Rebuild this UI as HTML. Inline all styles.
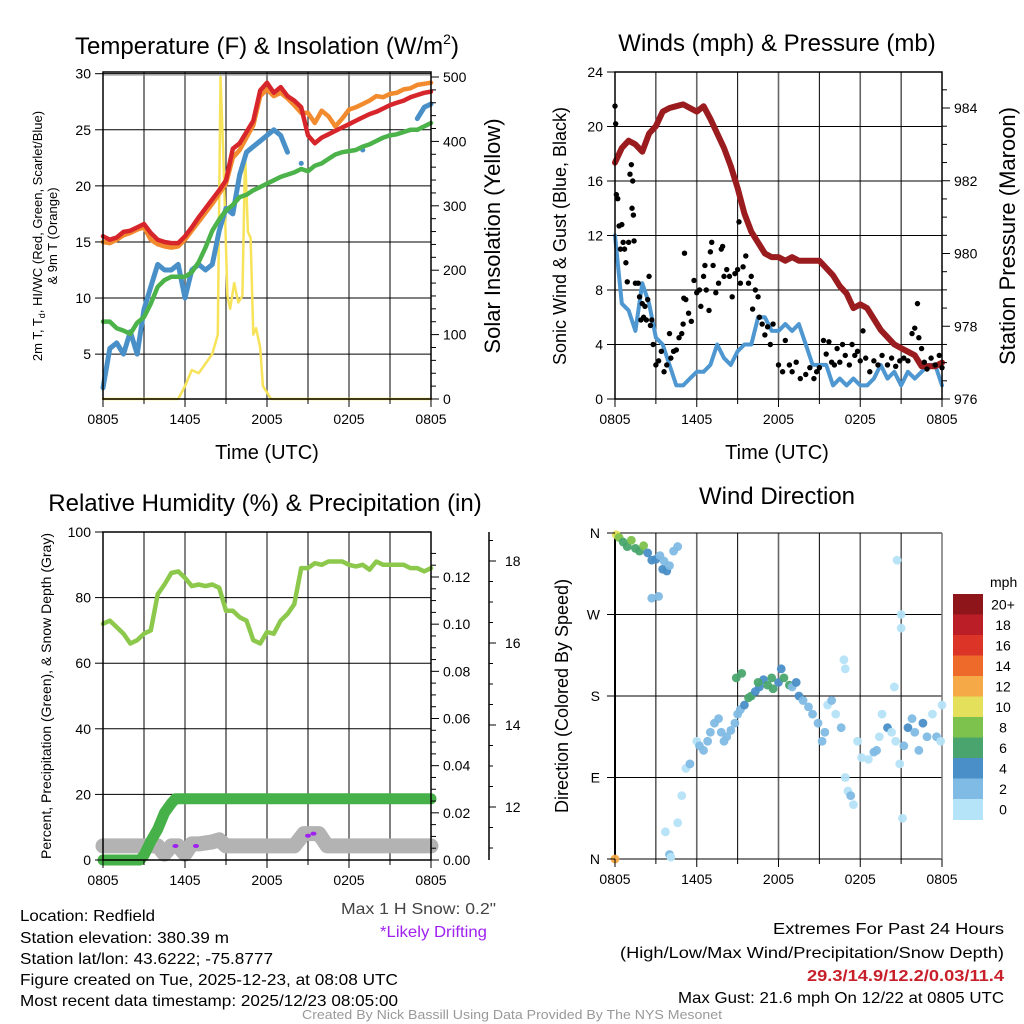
<!DOCTYPE html>
<html><head><meta charset="utf-8"><style>
html,body{margin:0;padding:0;background:#fff;}
svg{display:block;font-family:"Liberation Sans",sans-serif;}
.n{font-family:"Liberation Sans Narrow","Liberation Sans",sans-serif;}
</style></head><body>
<svg id="c" width="1024" height="1024" viewBox="0 0 1024 1024" xmlns="http://www.w3.org/2000/svg">
<rect width="1024" height="1024" fill="#fff"/>
<text x="267" y="54" font-size="24" text-anchor="middle">Temperature (F) &amp; Insolation (W/m<tspan dy="-10" font-size="14">2</tspan><tspan dy="10">)</tspan></text>
<text x="777" y="51" font-size="24" text-anchor="middle">Winds (mph) &amp; Pressure (mb)</text>
<text x="265" y="511" font-size="24" text-anchor="middle">Relative Humidity (%) &amp; Precipitation (in)</text>
<text x="777" y="504" font-size="24" text-anchor="middle">Wind Direction</text>
<text x="267" y="459" font-size="20" text-anchor="middle">Time (UTC)</text>
<text x="777" y="459" font-size="20" text-anchor="middle">Time (UTC)</text>
<text transform="translate(42,236) rotate(-90)" font-size="13" text-anchor="middle">2m T, T<tspan font-size="9" dy="3">d</tspan><tspan dy="-3">, HI/WC (Red, Green, Scarlet/Blue)</tspan></text>
<text transform="translate(57,236) rotate(-90)" font-size="13" text-anchor="middle">&amp; 9m T (Orange)</text>
<text transform="translate(500,236) rotate(-90)" font-size="22" text-anchor="middle">Solar Insolation (Yellow)</text>
<text transform="translate(566,236) rotate(-90)" font-size="18" text-anchor="middle">Sonic Wind &amp; Gust (Blue, Black)</text>
<text transform="translate(1015,236) rotate(-90)" font-size="22" text-anchor="middle">Station Pressure (Maroon)</text>
<text transform="translate(51,696) rotate(-90)" font-size="14" text-anchor="middle">Percent, Precipitation (Green), &amp; Snow Depth (Gray)</text>
<text transform="translate(568,696) rotate(-90)" font-size="18" text-anchor="middle">Direction (Colored By Speed)</text>
<g class="n" font-size="16">
<text x="20" y="921" textLength="135" lengthAdjust="spacingAndGlyphs">Location: Redfield</text>
<text x="20" y="943" textLength="209" lengthAdjust="spacingAndGlyphs">Station elevation: 380.39 m</text>
<text x="20" y="964" textLength="253" lengthAdjust="spacingAndGlyphs">Station lat/lon: 43.6222; -75.8777</text>
<text x="20" y="985" textLength="378" lengthAdjust="spacingAndGlyphs">Figure created on Tue, 2025-12-23, at 08:08 UTC</text>
<text x="20" y="1006" textLength="378" lengthAdjust="spacingAndGlyphs">Most recent data timestamp: 2025/12/23 08:05:00</text>
<text x="341" y="914" fill="#444" textLength="155" lengthAdjust="spacingAndGlyphs">Max 1 H Snow: 0.2"</text>
<text x="380" y="937" fill="#a020f0" textLength="107" lengthAdjust="spacingAndGlyphs">*Likely Drifting</text>
<text x="773" y="934" textLength="231" lengthAdjust="spacingAndGlyphs">Extremes For Past 24 Hours</text>
<text x="620" y="958" textLength="384" lengthAdjust="spacingAndGlyphs">(High/Low/Max Wind/Precipitation/Snow Depth)</text>
<text x="807" y="981" fill="#c8202a" font-weight="bold" textLength="197" lengthAdjust="spacingAndGlyphs">29.3/14.9/12.2/0.03/11.4</text>
<text x="678" y="1003" textLength="326" lengthAdjust="spacingAndGlyphs">Max Gust: 21.6 mph On 12/22 at 0805 UTC</text>
<text x="302" y="1019" fill="#999" font-size="13" textLength="420" lengthAdjust="spacingAndGlyphs">Created By Nick Bassill Using Data Provided By The NYS Mesonet</text>
</g>
</svg>
<script>
// ---------- data ----------
var xTickLabels = ["0805","1405","2005","0205","0805"];
var tempHours = [0,0.5,1,1.5,2,2.5,3,3.5,4,4.5,5,5.5,6,6.5,7,7.5,8,8.5,9,9.5,10,10.5,11,11.5,12,12.5,13,13.5,14,14.5,15,15.5,16,16.5,17,17.5,18,18.5,19,19.5,20,20.5,21,21.5,22,22.5,23,23.5,24];
var temp2m = [15.5,15.2,15.4,15.9,16,16.3,16.6,15.8,15.2,15,14.9,14.9,15.5,16.3,17.2,18,18.8,19.6,20.5,23.3,23.8,24.8,25.8,28.5,29.2,28.3,28.8,28,27.6,27,24.5,23.8,24.3,24.6,24.9,25.2,25.5,25.8,26.1,26.4,26.6,26.9,27.2,27.4,27.6,27.9,28.1,28.3,28.4];
var temp9m = [15,14.9,15.2,15.6,15.8,16.1,16.3,15.2,14.8,14.6,14.5,14.6,15.2,16,16.8,17.6,18.4,19.3,20.2,22.5,23.2,24.3,25.4,28,28.6,28,28.3,27.8,27.2,26.5,26.5,25.6,26.7,26.2,25.3,26,26.8,27,27.3,27.6,28,27.9,28.2,28.3,28.6,28.7,29,29.1,29.2];
var dewpoint = [7.9,7.9,7.3,7.1,6.8,7.8,8.3,9.5,11,11.6,11.9,11.9,11.9,12.3,13.2,14.5,16,17,17.8,18.3,19,19.2,19.6,19.9,20.2,20.5,20.8,21,21.2,21.5,21.3,21.8,22,22.4,22.8,23,23.1,23.2,23.5,23.7,24,24.3,24.5,24.6,24.8,25,25,25.3,25.6];
var windChill = [2,5.5,6,5,7,5,9,11,13,12.5,12.5,13,10,12.5,13,12.5,13,16,18,17.5,21,23,23.5,24,24.5,25,24.5,23,null,22,null,null,null,null,null,null,null,null,23.2,null,null,null,24.5,null,null,null,26,27,27.3];
var solarHours = [0,5.5,6,6.5,7,7.5,8,8.4,8.6,8.8,9.1,9.3,9.6,9.9,10.2,10.4,10.6,10.8,11,11.2,11.5,11.7,12.3,24];
var solarVals = [0,0,20,45,40,55,70,100,500,380,160,140,180,150,160,380,260,250,100,110,80,20,0,0];
var tempTicks = [5,10,15,20,25,30];
var solarTicks = [0,100,200,300,400,500];

var windHalfHours = [];
for (var i=0;i<=48;i++) windHalfHours.push(i/2);
var windSpeed = [12,7,6.5,5,8.5,7,4.5,4,2.5,1,1,1.5,2,2,2.5,4,3,2.5,3.5,4,4,6,6,5,5,5.5,5,5.5,4,2.5,2.5,2.5,1,1.5,1,1.5,1,1,1.5,2.5,1.5,2,1,2,1.5,2,2.5,2.5,1];
var pressure = [982.5,982.9,983.1,983.0,982.8,983.3,983.5,983.9,984.0,984.05,984.1,984.0,983.9,984.05,983.7,983.3,982.9,982.4,981.8,981.1,980.6,980.3,980.0,979.9,979.9,979.8,979.9,979.8,979.8,979.8,979.8,979.6,979.4,979.1,978.9,978.5,978.6,978.5,978.2,977.9,977.7,977.5,977.4,977.3,977.2,976.9,976.9,976.9,977.0];
var gustHours = [0,0.05,0.1,0.2,0.3,0.4,0.5,0.6,0.7,0.8,0.9,1.0,1.1,1.2,1.25,1.3,1.35,1.4,1.5,1.7,1.8,1.9,2.0,2.1,2.2,2.3,2.4,2.5,2.6,2.7,2.8,3.0,3.2,3.4,3.6,3.8,4.0,4.1,4.3,4.5,4.7,4.9,5.0,5.05,5.1,5.2,5.4,5.6,5.8,6.0,6.2,6.3,6.5,6.6,6.7,6.9,7.0,7.1,7.2,7.4,7.6,7.8,7.9,8.0,8.2,8.4,8.6,8.8,9.0,9.1,9.2,9.4,9.6,9.8,10.0,10.1,10.3,10.5,10.6,10.8,11.0,11.2,11.4,11.6,12.0,12.3,12.5,12.8,13.0,13.3,13.6,14.0,14.3,14.6,14.8,15.0,15.3,15.5,15.7,15.9,16.1,16.3,16.5,16.7,16.9,17.2,17.4,17.6,17.8,18.0,18.2,18.4,18.7,19.0,19.3,19.6,20.0,20.3,20.6,20.9,21.2,21.5,21.8,22.0,22.2,22.3,22.5,22.7,22.9,23.2,23.5,23.8,24.0];
var gustVals = [21.5,20.2,15,14.7,12.7,11,12.8,11.5,11,10,8.6,11.5,16.5,17.2,14,16,13.5,11.6,8.5,8.5,7.5,5.8,7,6,6.8,5.8,7.3,9,5.4,5.8,4,2.5,2.8,3.5,2,2.5,4.8,3,3.5,3.6,4.5,4.8,5.5,7.4,10.7,7.3,6.3,5.7,8.7,7.8,8,6.8,9,9.8,8,6.5,10.8,11.5,9.8,7.8,8.5,11,11.2,9,9.5,9,7.5,9.2,9.5,13,8.5,9.7,10.5,8.5,9,6.6,8,7.5,6,5.5,4.7,5.3,4,5.5,2.5,2,4.3,2.5,2,2.7,1.5,1.8,2.3,1.5,2,2.3,4.3,3.3,4.2,2.7,2.5,3.7,2.7,4,3.2,2.5,4,3.2,3.5,2.8,5,3,2,2.8,2.5,3.2,2.5,3,2.4,2.8,3,2.8,4.8,5.2,7,4.5,3.7,2.7,2.2,3,2.5,3.2,2.3];
var windTicks = [0,4,8,12,16,20,24];
var pressTicks = [976,978,980,982,984];

var rhHalfHours = windHalfHours;
var rhVals = [72,73,71,69,66,67,69,70,81,84,87.5,88,86,83.5,84,83.5,84,83,76,76,74,73,67,66,69.5,69,73,75,78,89,89,90.5,90,91,91,91,90,89.5,90,88.5,91,90,90,90,90,89,89,88,89];
var precipHours = [0,2.7,3,3.5,4,4.5,5,5.3,24];
var precipVals = [0,0,0.002,0.008,0.013,0.02,0.024,0.026,0.026];
var snowHours = [0,4,4.5,5,5.5,6,6.5,7,8,8.5,9,10,12,14,14.7,15.2,15.8,16.4,17,24];
var snowVals = [11.05,11.05,10.85,11.05,11.05,10.85,11.1,11.1,11.15,11.2,11.05,11.05,11.05,11.05,11.35,11.35,11.35,11.05,11.05,11.05];
var driftHours = [5.3,6.8,15.0,15.4];
var driftVals = [11.05,11.05,11.3,11.35];
var rhTicks = [0,20,40,60,80,100];
var precipTicks = [0,0.02,0.04,0.06,0.08,0.10,0.12];
var snowTicks = [12,14,16,18];

var dirHours = [0,0.1,0.3,0.6,0.9,1.2,1.5,1.8,2.1,2.4,2.7,3.0,3.3,3.5,3.8,3.6,4.0,4.3,4.6,2.7,3.2,3.7,4.0,4.1,4.6,4.9,5.2,5.5,6.0,6.2,6.5,6.8,7.0,7.3,7.6,7.8,8.0,8.2,8.5,8.8,9.0,9.2,9.5,9.8,10.0,10.3,10.6,10.9,11.2,11.6,12.0,12.2,11.5,12.4,12.8,13.0,13.3,13.5,13.8,14.2,14.5,14.9,15.2,15.4,15.6,15.9,16.2,16.6,16.9,17.1,17.3,17.5,17.8,18.1,18.6,19.0,19.2,19.4,19.6,20.0,20.3,20.6,20.9,21.2,21.5,21.8,22.0,22.3,22.6,22.9,23.3,23.6,23.9,24.0,20.7,21.0,21.0,20.5,21.1,16.8,16.9,8.9,9.3,10.5];
var dirDeg = [0,358,355,350,345,352,343,340,346,338,330,331,335,320,318,329,324,340,345,288,290,30,5,2,40,70,100,105,130,125,120,130,140,150,155,140,130,135,142,150,160,165,170,178,180,185,190,198,192,188,195,210,200,200,192,190,195,180,175,168,160,150,130,140,170,175,160,145,90,75,70,60,130,112,110,118,120,135,160,145,140,130,105,125,145,155,140,120,150,135,160,135,130,170,330,270,255,190,45,220,210,200,205,195];
var dirSpeed = [13,10,8,7,6,8,6,6,8,5,4,4,3,4,4,2,3,2,2,3,3,1,2,1,1,1,1,2,1,2,2,2,2,3,3,3,2,3,3,3,3,3,4,6,7,4,4,4,6,7,5,5,7,7,6,3,4,4,3,3,3,2,2,2,1,2,1,2,1,1,3,1,1,1,1,3,2,1,1,4,1,1,1,2,4,2,2,3,4,2,1,2,1,1,1,1,1,1,1,1,1,6,6,7];
var speedBinLabels = ["0","2","4","6","8","10","12","14","16","18","20+"];
var speedColors = ["#b5e3f8","#7fbbe4","#4a8fc7","#49a56d","#7dc24c","#e5e05b","#f5a947","#ee6a2b","#dc3528","#bb1e27","#8e1519"];
var dirTickLabels = ["N","E","S","W","N"];

// ---------- helpers ----------
var svg = document.getElementById('c');
var NS = 'http://www.w3.org/2000/svg';
function mk(tag, attrs, name, parent) {
  var el = document.createElementNS(NS, tag);
  for (var k in attrs) el.setAttribute(k, attrs[k]);
  
  
  (parent || svg).appendChild(el);
  return el;
}
function lin(d0,d1,r0,r1){ return function(v){ return r0 + (v-d0)/(d1-d0)*(r1-r0); }; }
function pathFrom(xs, ys, fx, fy) {
  var d = '', pen = false;
  for (var i=0;i<xs.length;i++) {
    if (ys[i] === null) { pen = false; continue; }
    var px = fx(xs[i]).toFixed(1), py = fy(ys[i]).toFixed(1);
    var nextNull = (i+1>=xs.length || ys[i+1]===null);
    if (!pen && nextNull) { d += 'M' + px + ',' + py + 'l0.1,0'; continue; }
    d += (pen ? 'L' : 'M') + px + ',' + py;
    pen = true;
  }
  return d;
}
function frame(L,T,R,B,name,gridYs,fy,nameP){
  var g = mk('g', {}, name);
  var fx = lin(0,24,L,R);
  for (var h=3; h<24; h+=3) {
    mk('line', {x1:fx(h),x2:fx(h),y1:T,y2:B,stroke:(h%6===0?'#666':'#000'),'stroke-width':(h%6===0?1.6:1)}, nameP+'-vgrid', g);
  }
  for (var i=0;i<gridYs.length;i++){
    mk('line', {x1:L,x2:R,y1:fy(gridYs[i]),y2:fy(gridYs[i]),stroke:'#000','stroke-width':1}, nameP+'-hgrid', g);
  }
  return g;
}
function xTicks(L,R,B,nameP){
  var fx = lin(0,24,L,R);
  for (var i=0;i<xTickLabels.length;i++){
    var x = fx(i*6);
    mk('line',{x1:x,x2:x,y1:B,y2:B+8,stroke:'#000'},nameP+'-x-tick');
    var t = mk('text',{x:x,y:B+25,'font-size':14,'text-anchor':'middle'},nameP+'-x-tick-label');
    t.textContent = xTickLabels[i];
  }
  for (var h=3;h<24;h+=6){
    mk('line',{x1:fx(h),x2:fx(h),y1:B,y2:B+5,stroke:'#000'},nameP+'-x-minor-tick');
  }
}

// ---------- panel 1 ----------
(function(){
  var L=103,R=431,T=72,B=399;
  var fx = lin(0,24,L,R), fy = lin(1,30.15,B,T), fs = lin(0,500,B,77);
  frame(L,T,R,B,'temp-grid',tempTicks,fy,'temp');
  mk('line',{x1:L,x2:R,y1:T+3,y2:T+3,stroke:'#888'},'temp-top-line');
  var g = mk('g',{fill:'none','stroke-linejoin':'round','stroke-linecap':'round'},'temp-series');
  mk('path',{d:pathFrom(solarHours,solarVals,fx,fs),stroke:'#f7e35a','stroke-width':2.5},'solar-line',g);
  mk('path',{d:pathFrom(tempHours,windChill,fx,fy),stroke:'#4a90c8','stroke-width':5},'windchill-line',g);
  mk('path',{d:pathFrom(tempHours,dewpoint,fx,fy),stroke:'#4cb24a','stroke-width':4.5},'dewpoint-line',g);
  mk('path',{d:pathFrom(tempHours,temp9m,fx,fy),stroke:'#f28b2e','stroke-width':4.5},'temp9m-line',g);
  mk('path',{d:pathFrom(tempHours,temp2m,fx,fy),stroke:'#d7262b','stroke-width':4.5},'temp2m-line',g);
  mk('rect',{x:L,y:T,width:R-L,height:B-T,fill:'none',stroke:'#000','stroke-width':1.5},'temp-frame');
  for (var i=0;i<tempTicks.length;i++){
    mk('line',{x1:L-8,x2:L,y1:fy(tempTicks[i]),y2:fy(tempTicks[i]),stroke:'#000'},'temp-y-tick');
    var t = mk('text',{x:L-12,y:fy(tempTicks[i])+5,'font-size':14,'text-anchor':'end'},'temp-y-tick-label');
    t.textContent = tempTicks[i];
  }
  for (var v=0; v<=500; v+=20){
    var big = v%100===0;
    mk('line',{x1:R,x2:R+(big?8:5),y1:fs(v),y2:fs(v),stroke:'#000'},'solar-y-tick');
  }
  for (var i=0;i<solarTicks.length;i++){
    var t = mk('text',{x:R+12,y:fs(solarTicks[i])+5,'font-size':14},'solar-y-tick-label');
    t.textContent = solarTicks[i];
  }
  xTicks(L,R,B,'temp');
})();

// ---------- panel 2 ----------
(function(){
  var L=615,R=942,T=72,B=399;
  var fx = lin(0,24,L,R), fy = lin(0,24,B,T), fp = lin(976,984,B,108);
  frame(L,T,R,B,'wind-grid',windTicks,fy,'wind');
  var g = mk('g',{fill:'none','stroke-linejoin':'round','stroke-linecap':'round'},'wind-series');
  mk('path',{d:pathFrom(windHalfHours,windSpeed,fx,fy),stroke:'#4f97d0','stroke-width':4},'wind-speed-line',g);
  mk('path',{d:pathFrom(windHalfHours,pressure,fx,fp),stroke:'#9b1c1f','stroke-width':6},'pressure-line',g);
  for (var i=0;i<gustHours.length;i++){
    mk('circle',{cx:fx(gustHours[i]),cy:fy(gustVals[i]),r:2.7,fill:'#000'},'gust-point');
  }
  mk('rect',{x:L,y:T,width:R-L,height:B-T,fill:'none',stroke:'#000','stroke-width':1.5},'wind-frame');
  for (var i=0;i<windTicks.length;i++){
    mk('line',{x1:L-8,x2:L,y1:fy(windTicks[i]),y2:fy(windTicks[i]),stroke:'#000'},'wind-y-tick');
    var t = mk('text',{x:L-12,y:fy(windTicks[i])+5,'font-size':14,'text-anchor':'end'},'wind-y-tick-label');
    t.textContent = windTicks[i];
  }
  for (var v=976; v<=984.9; v+=0.5){
    var big = Math.abs(v%2)<0.01;
    mk('line',{x1:R,x2:R+(big?8:5),y1:fp(v),y2:fp(v),stroke:'#000'},'pressure-y-tick');
  }
  for (var i=0;i<pressTicks.length;i++){
    var t = mk('text',{x:R+12,y:fp(pressTicks[i])+5,'font-size':14},'pressure-y-tick-label');
    t.textContent = pressTicks[i];
  }
  xTicks(L,R,B,'wind');
})();

// ---------- panel 3 ----------
(function(){
  var L=103,R=431,T=532,B=860;
  var fx = lin(0,24,L,R), fy = lin(0,100,B,T), fpr = lin(0,0.12,B,577), fsn = lin(12,18,807,561);
  frame(L,T,R,B,'rh-grid',rhTicks,fy,'rh');
  var g = mk('g',{fill:'none','stroke-linejoin':'round','stroke-linecap':'round'},'rh-series');
  mk('path',{d:pathFrom(snowHours,snowVals,fx,fsn),stroke:'#b3b3b3','stroke-width':15},'snow-depth-line',g);
  mk('path',{d:pathFrom(precipHours,precipVals,fx,fpr),stroke:'#46b148','stroke-width':11},'precip-line',g);
  mk('path',{d:pathFrom(rhHalfHours,rhVals,fx,fy),stroke:'#8cc84b','stroke-width':4.5},'rh-line',g);
  for (var i=0;i<driftHours.length;i++){
    mk('ellipse',{cx:fx(driftHours[i]),cy:fsn(driftVals[i]),rx:3,ry:2,fill:'#a020f0'},'drift-marker');
  }
  mk('rect',{x:L,y:T,width:R-L,height:B-T,fill:'none',stroke:'#000','stroke-width':1.5},'rh-frame');
  for (var i=0;i<rhTicks.length;i++){
    mk('line',{x1:L-8,x2:L,y1:fy(rhTicks[i]),y2:fy(rhTicks[i]),stroke:'#000'},'rh-y-tick');
    var t = mk('text',{x:L-12,y:fy(rhTicks[i])+5,'font-size':14,'text-anchor':'end'},'rh-y-tick-label');
    t.textContent = rhTicks[i];
  }
  for (var v=0; v<=0.131; v+=0.005){
    var r2 = Math.round(v*1000)%20===0;
    mk('line',{x1:R,x2:R+(r2?8:5),y1:fpr(v),y2:fpr(v),stroke:'#000'},'precip-y-tick');
  }
  for (var i=0;i<precipTicks.length;i++){
    var t = mk('text',{x:R+12,y:fpr(precipTicks[i])+5,'font-size':14},'precip-y-tick-label');
    t.textContent = precipTicks[i].toFixed(2);
  }
  mk('line',{x1:489,x2:489,y1:532,y2:860,stroke:'#000','stroke-width':1.5},'snow-axis-line');
  for (var v=10.5; v<=18.6; v+=0.5){
    var big = Math.abs(v%2)<0.01;
    if (fsn(v)<532||fsn(v)>860) continue;
    mk('line',{x1:489,x2:489+(big?7:4),y1:fsn(v),y2:fsn(v),stroke:'#000'},'snow-y-tick');
  }
  for (var i=0;i<snowTicks.length;i++){
    var t = mk('text',{x:505,y:fsn(snowTicks[i])+5,'font-size':14},'snow-y-tick-label');
    t.textContent = snowTicks[i];
  }
  xTicks(L,R,B,'rh');
})();

// ---------- panel 4 ----------
(function(){
  var L=615,R=942,T=533,B=859;
  var fx = lin(0,24,L,R), fy = lin(0,360,B,T);
  frame(L,T,R,B,'dir-grid',[90,180,270],fy,'dir');
  mk('line',{x1:L,x2:R,y1:T,y2:T,stroke:'#000'},'dir-top-line');
  mk('line',{x1:L,x2:R,y1:B,y2:B,stroke:'#000'},'dir-bottom-line');
  mk('line',{x1:L,x2:L,y1:T,y2:B,stroke:'#000','stroke-width':2},'dir-left-line');
  mk('line',{x1:R,x2:R,y1:T,y2:B,stroke:'#777','stroke-width':1.5},'dir-right-line');
  var g = mk('g',{'fill-opacity':0.95},'dir-points');
  for (var i=0;i<dirHours.length;i++){
    var bin = Math.min(10, Math.floor(dirSpeed[i]/2));
    mk('circle',{cx:fx(dirHours[i]),cy:fy(dirDeg[i]),r:4.4,fill:speedColors[bin]},'dir-point',g);
  }
  for (var i=0;i<dirTickLabels.length;i++){
    var y = fy(i*90);
    mk('line',{x1:L-8,x2:L,y1:y,y2:y,stroke:'#000'},'dir-y-tick');
    var t = mk('text',{x:L-15,y:y+5,'font-size':14,'text-anchor':'end'},'dir-y-tick-label');
    t.textContent = dirTickLabels[i];
  }
  xTicks(L,R,B,'dir');
  var cb = mk('g',{},'speed-colorbar');
  var top=594, bh=20.5;
  for (var i=0;i<speedColors.length;i++){
    var idx = speedColors.length-1-i;
    mk('rect',{x:953,y:top+i*bh,width:30,height:bh+0.5,fill:speedColors[idx]},'colorbar-box',cb);
    var t = mk('text',{x:1003,y:top+i*bh+bh/2+5,'font-size':14,'text-anchor':'middle'},'colorbar-label',cb);
    t.textContent = speedBinLabels[idx];
  }
  var u = mk('text',{x:990,y:587,'font-size':14},'colorbar-unit',cb);
  u.textContent = 'mph';
})();
</script>
</body></html>
